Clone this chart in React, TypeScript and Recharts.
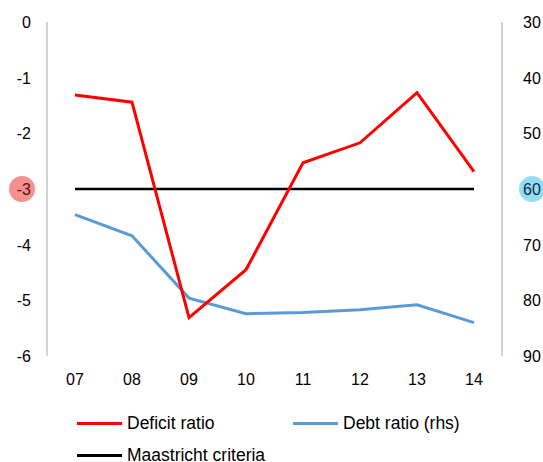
import React from 'react';
import { LineChart, Line, XAxis, YAxis, Legend } from 'recharts';

const years = ['07', '08', '09', '10', '11', '12', '13', '14'];
const deficitRatio = [-1.31, -1.44, -5.31, -4.45, -2.53, -2.17, -1.27, -2.69];
const debtRatio = [64.6, 68.4, 79.6, 82.4, 82.2, 81.7, 80.8, 84.0];
const maastricht = [-3, -3, -3, -3, -3, -3, -3, -3];
const leftTicks = [0, -1, -2, -3, -4, -5, -6];
const rightTicks = [30, 40, 50, 60, 70, 80, 90];

const data = years.map((y, i) => ({
  year: y,
  deficit: deficitRatio[i],
  debt: debtRatio[i],
  maastricht: maastricht[i],
}));

const FONT = '"Liberation Sans", Arial, sans-serif';
const FS = 16;

const LeftTick = (props: any) => {
  const { x, y, payload } = props;
  const hl = payload.value === -3;
  return (
    <g>
      {hl && <circle cx={x - 9} cy={y} r={13} fill="#F4908E" />}
      <text x={x} y={y} dy={6} textAnchor="end" fontSize={FS} fontFamily={FONT} fill={hl ? '#5a1010' : '#000'}>
        {payload.value}
      </text>
    </g>
  );
};

const RightTick = (props: any) => {
  const { x, y, payload } = props;
  const hl = payload.value === 60;
  return (
    <g>
      {hl && <circle cx={x + 9} cy={y} r={13} fill="#93DDF5" />}
      <text x={x} y={y} dy={6} textAnchor="start" fontSize={FS} fontFamily={FONT} fill={hl ? '#0f2a40' : '#000'}>
        {payload.value}
      </text>
    </g>
  );
};

const legendItems = [
  { label: 'Deficit ratio', color: '#FF0000', left: 77, top: 31 },
  { label: 'Debt ratio (rhs)', color: '#5B9BD5', left: 293, top: 31 },
  { label: 'Maastricht criteria', color: '#000000', left: 77, top: 63 },
];

const LegendContent = () => (
  <div style={{ position: 'relative', width: 543, height: 70, fontFamily: FONT, fontSize: 17.5 }}>
    {legendItems.map((it) => (
      <div key={it.label} style={{ position: 'absolute', left: it.left, top: it.top - 10, height: 20, display: 'flex', alignItems: 'center' }}>
        <div style={{ width: 45, height: 3, background: it.color, marginRight: 5 }} />
        <span style={{ color: '#000', whiteSpace: 'nowrap' }}>{it.label}</span>
      </div>
    ))}
  </div>
);

export default function App() {
  return (
    <div style={{ position: 'absolute', left: 0, top: 0, background: '#fff' }}>
      <LineChart width={543} height={462} data={data} margin={{ top: 22, right: 0, left: 0, bottom: 0 }}>
        <XAxis dataKey="year" axisLine={false} tickLine={false} height={36} padding={{ left: 28, right: 28 }} tick={{ fontSize: FS, fontFamily: FONT, fill: '#000' }} tickMargin={12} interval={0} />
        <YAxis yAxisId="left" orientation="left" width={47} domain={[-6, 0]} ticks={leftTicks} tickLine={false} axisLine={{ stroke: '#A6A6A6', strokeWidth: 1 }} tick={<LeftTick />} tickMargin={10} interval={0} allowDataOverflow />
        <YAxis yAxisId="right" orientation="right" width={41} domain={[30, 90]} reversed ticks={rightTicks} tickLine={false} axisLine={{ stroke: '#A6A6A6', strokeWidth: 1 }} tick={<RightTick />} tickMargin={15} interval={0} allowDataOverflow />
        <Legend verticalAlign="bottom" align="left" height={70} content={<LegendContent />} wrapperStyle={{ left: 0, width: 543, height: 70 }} />
        <Line yAxisId="left" dataKey="maastricht" stroke="#000000" strokeWidth={2.5} dot={false} isAnimationActive={false} />
        <Line yAxisId="right" dataKey="debt" stroke="#5B9BD5" strokeWidth={3} dot={false} isAnimationActive={false} />
        <Line yAxisId="left" dataKey="deficit" stroke="#FF0000" strokeWidth={3} dot={false} isAnimationActive={false} />
      </LineChart>
    </div>
  );
}
